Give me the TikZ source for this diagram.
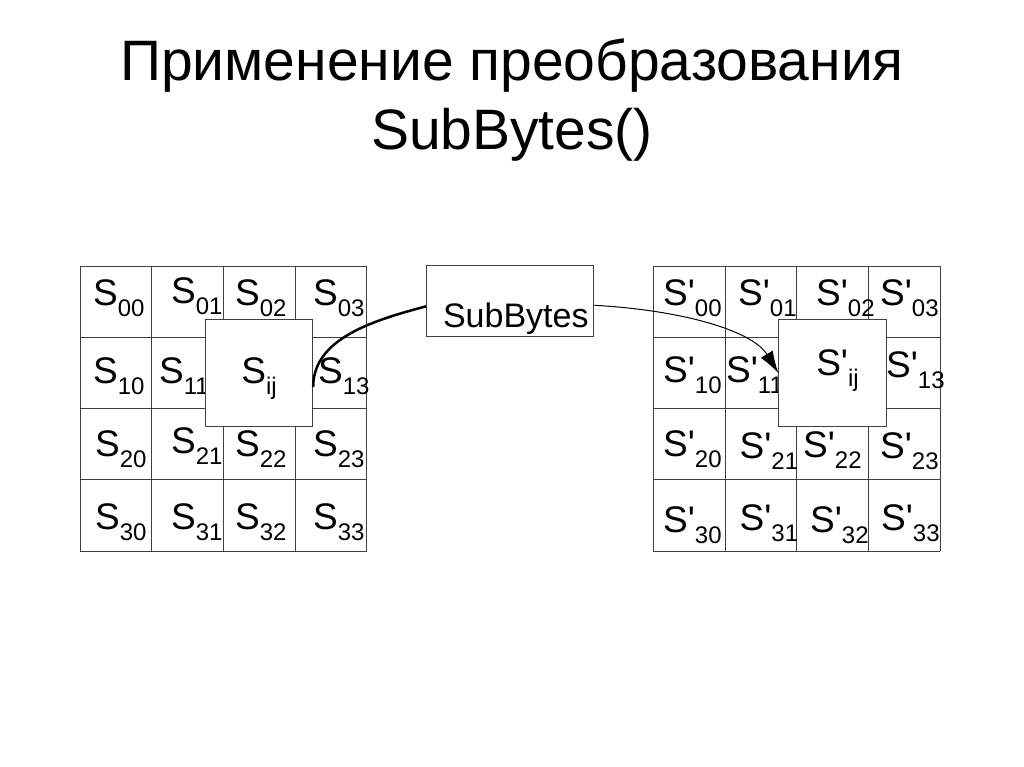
\documentclass[tikz,border=0pt]{standalone}
\usepackage{fontspec}
\setmainfont{Liberation Sans}
\usetikzlibrary{arrows.meta}
\newcommand{\idx}[1]{\raisebox{-11pt}{\fontsize{24}{24}\selectfont #1}}
\tikzset{
  cell/.style={draw=black!75, line width=1pt},
  lab/.style={anchor=base west, inner sep=0pt, font=\fontsize{37}{37}\selectfont},
  bigbox/.style={draw=black!75, line width=1pt, fill=white, minimum size=107.4pt, inner sep=0pt, font=\fontsize{37}{37}\selectfont},
  title/.style={anchor=base, inner sep=0pt, font=\fontsize{57}{68}\selectfont},
  fatline/.style={line width=2.5pt},
  thinline/.style={line width=1pt, -{Latex[length=22pt,width=14pt]}}
}
\begin{document}
\begin{tikzpicture}[x=1pt, y=-1pt]
\useasboundingbox (0,0) rectangle (1024,767);

\node [title] (t1) at (512,80.7) {Применение преобразования};
\node [title] (t2) at (512,149.3) {SubBytes()};

\foreach \gx in {80,653.3} {
  \foreach \i in {0,...,4} {
    \draw [cell] (\gx+71.7*\i,266) -- (\gx+71.7*\i,551);
    \draw [cell] (\gx,266+71.25*\i) -- (\gx+286.8,266+71.25*\i);
  }
}

\foreach \x/\y/\t in {93/305/00, 171/303/01, 235/305/02, 313/305/03,
                      93/383/10, 159/383/11, 318/383/13,
                      95/456/20, 171/453/21, 235/456/22, 313/456/23,
                      95/529/30, 171/529/31, 235/529/32, 313/529/33}
  \node [lab] (s\t) at (\x,\y) {S\idx{\t}};

\foreach \x/\y/\t in {663/305/00, 738/305/01, 816/305/02, 880/305/03,
                      663/382/10, 726/382/11, 886/377/13,
                      663/456/20, 739.5/458/21, 803/457/22, 880/458/23,
                      663/532/30, 739.5/530/31, 810/532/32, 881/530/33}
  \node [lab] (d\t) at (\x,\y) {S\textquotesingle\idx{\t}};

\node [bigbox, text height=26pt, text depth=6pt] (sij) at (259,373) {S\idx{ij}};
\node [bigbox, text height=26pt, text depth=22pt] (dij) at (832.5,373) {\hspace*{10pt}S\textquotesingle\idx{ij}};

\node [draw=black!75, line width=1pt, minimum width=167.3pt, minimum height=70.7pt,
       text height=52pt, text depth=0pt, inner sep=0pt, font=\fontsize{34}{34}\selectfont]
  (sb) at (510.3,301.3) {\hspace*{11pt}SubBytes};

\draw [fatline] ([yshift=-5pt]sb.west) .. controls (375,320) and (313,338) .. ([yshift=-14pt]sij.east);
\draw [thinline] ([yshift=-4pt]sb.east) .. controls (680,310) and (752,330) .. (dij.west);
\end{tikzpicture}
\end{document}
